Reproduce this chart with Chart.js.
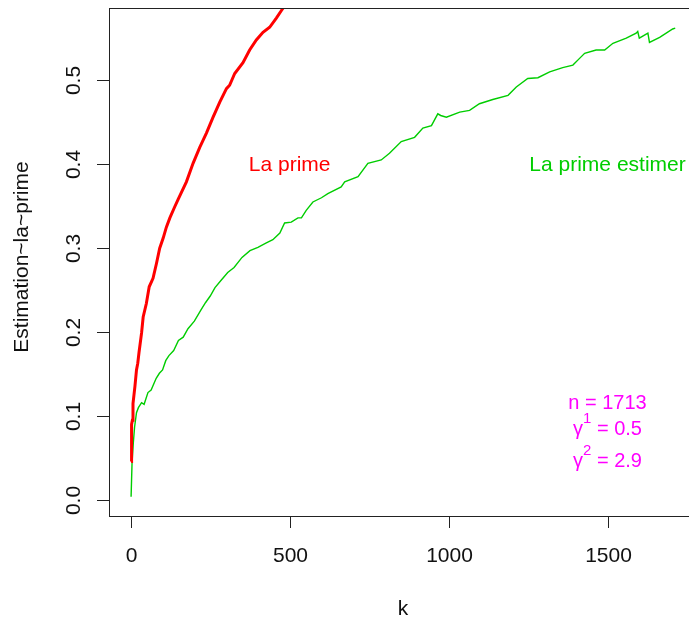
<!DOCTYPE html>
<html>
<head>
<meta charset="utf-8">
<script src="https://cdn.jsdelivr.net/npm/chart.js@4"></script>
<style>
  html, body { margin: 0; padding: 0; background: #fff; overflow: hidden; }
  canvas { display: block; }
</style>
</head>
<body>
<canvas id="primeChart" width="700" height="623"></canvas>
<script>
// true premium curve
const kPrime = [1, 2, 3, 5, 7, 10, 13, 18, 22, 26, 34, 39, 49, 58, 70, 81, 91, 102, 112, 123,
  138, 149, 175, 196, 217, 238, 259, 280, 301, 311, 327, 353, 374, 395, 416, 437, 458, 474, 490, 510];
const prime = [0.046, 0.048, 0.090, 0.095, 0.115, 0.125, 0.135, 0.155, 0.163, 0.176, 0.199, 0.218,
  0.234, 0.254, 0.264, 0.282, 0.300, 0.312, 0.325, 0.336, 0.349, 0.358, 0.379, 0.401, 0.420, 0.437,
  0.456, 0.474, 0.490, 0.494, 0.508, 0.521, 0.536, 0.548, 0.557, 0.563, 0.574, 0.583, 0.592, 0.600];

// estimated premium
const kEst = [1, 4, 8, 12, 18, 24, 34, 42, 54, 64, 80, 90, 100, 110, 120, 135, 150, 165, 180, 200,
  220, 235, 250, 265, 285, 305, 325, 350, 375, 400, 425, 447, 469, 484, 505, 526, 537, 552, 573, 600,
  620, 662, 673, 715, 746, 788, 814, 851, 893, 919, 946, 966, 975, 993, 1035, 1066, 1097, 1139, 1187,
  1213, 1249, 1281, 1318, 1359, 1391, 1412, 1428, 1464, 1491, 1517, 1559, 1590, 1595, 1600, 1627,
  1632, 1664, 1705, 1713];
const primeEst = [0.004, 0.044, 0.068, 0.087, 0.104, 0.110, 0.116, 0.114, 0.128, 0.131, 0.145, 0.151,
  0.155, 0.166, 0.172, 0.178, 0.190, 0.194, 0.204, 0.213, 0.226, 0.235, 0.243, 0.253, 0.262, 0.271,
  0.277, 0.289, 0.297, 0.301, 0.306, 0.310, 0.318, 0.330, 0.331, 0.336, 0.336, 0.345, 0.355, 0.360,
  0.365, 0.373, 0.379, 0.385, 0.401, 0.405, 0.413, 0.427, 0.432, 0.443, 0.446, 0.460, 0.458, 0.456,
  0.462, 0.464, 0.472, 0.477, 0.482, 0.492, 0.502, 0.503, 0.510, 0.515, 0.518, 0.526, 0.532, 0.536,
  0.536, 0.544, 0.550, 0.556, 0.558, 0.550, 0.556, 0.545, 0.551, 0.561, 0.562];

const xTicks = [0, 500, 1000, 1500];
const yTicks = [0, 0.1, 0.2, 0.3, 0.4, 0.5];
const yTickLabels = ["0.0", "0.1", "0.2", "0.3", "0.4", "0.5"];

const FONT = '"Liberation Sans", Arial, sans-serif';

const toPoints = (xs, ys) => xs.map((x, i) => ({ x: x, y: ys[i] }));

// R-style box, ticks and annotations
const baseGraphics = {
  id: "baseGraphics",
  afterDraw(chart) {
    const c = chart.ctx;
    const a = chart.chartArea;
    const xs = chart.scales.x;
    const ys = chart.scales.y;
    c.save();
    c.strokeStyle = "#222";
    c.lineWidth = 1;
    c.strokeRect(a.left + 0.5, a.top + 0.5, a.right - a.left, a.bottom - a.top);

    c.fillStyle = "#111";
    c.font = "21px " + FONT;
    c.textAlign = "center";
    xTicks.forEach((v) => {
      const px = Math.round(xs.getPixelForValue(v)) + 0.5;
      c.beginPath();
      c.moveTo(px, a.bottom);
      c.lineTo(px, a.bottom + 12);
      c.stroke();
      c.textBaseline = "alphabetic";
      c.fillText(String(v), px, 562);
    });
    yTicks.forEach((v, i) => {
      const py = Math.round(ys.getPixelForValue(v)) + 0.5;
      c.beginPath();
      c.moveTo(a.left - 12, py);
      c.lineTo(a.left, py);
      c.stroke();
      c.save();
      c.translate(80, py);
      c.rotate(-Math.PI / 2);
      c.fillText(yTickLabels[i], 0, 0);
      c.restore();
    });

    // axis titles
    c.fillText("k", (a.left + 697) / 2, 615);
    c.save();
    c.translate(28, 257);
    c.rotate(-Math.PI / 2);
    c.fillText("Estimation~la~prime", 0, 0);
    c.restore();

    // curve labels
    c.font = "21px " + FONT;
    c.fillStyle = "#ff0000";
    c.fillText("La prime", xs.getPixelForValue(500), 171);
    c.fillStyle = "#00cd00";
    c.fillText("La prime estimer", xs.getPixelForValue(1500), 171);

    // parameters
    c.fillStyle = "#ff00ff";
    const cx = xs.getPixelForValue(1500);
    const line = (parts, y) => {
      let w = 0;
      parts.forEach((p) => { c.font = p.size + "px " + FONT; w += c.measureText(p.t).width; });
      let x = cx - w / 2;
      c.textAlign = "left";
      parts.forEach((p) => {
        c.font = p.size + "px " + FONT;
        c.fillText(p.t, x, y - (p.rise || 0));
        x += c.measureText(p.t).width;
      });
      c.textAlign = "center";
    };
    line([{ t: "n = 1713", size: 20 }], 409);
    line([{ t: "\u03b3", size: 20 }, { t: "1", size: 15, rise: 12 }, { t: " = 0.5", size: 20 }], 435);
    line([{ t: "\u03b3", size: 20 }, { t: "2", size: 15, rise: 12 }, { t: " = 2.9", size: 20 }], 467);
    c.restore();
  }
};

new Chart(document.getElementById("primeChart"), {
  type: "scatter",
  data: {
    datasets: [
      {
        label: "La prime",
        data: toPoints(kPrime, prime),
        showLine: true,
        borderColor: "#ff0000",
        borderWidth: 3,
        pointRadius: 0,
        tension: 0
      },
      {
        label: "La prime estimer",
        data: toPoints(kEst, primeEst),
        showLine: true,
        borderColor: "#00cd00",
        borderWidth: 1.4,
        pointRadius: 0,
        tension: 0
      }
    ]
  },
  options: {
    responsive: false,
    animation: false,
    layout: { padding: { left: 109, top: 8, right: 3, bottom: 107 } },
    plugins: { legend: { display: false }, tooltip: { enabled: false } },
    scales: {
      x: { type: "linear", min: -68.5, max: 1781.5, display: false },
      y: { type: "linear", min: -0.019, max: 0.586, display: false }
    }
  },
  plugins: [baseGraphics]
});
</script>
</body>
</html>
